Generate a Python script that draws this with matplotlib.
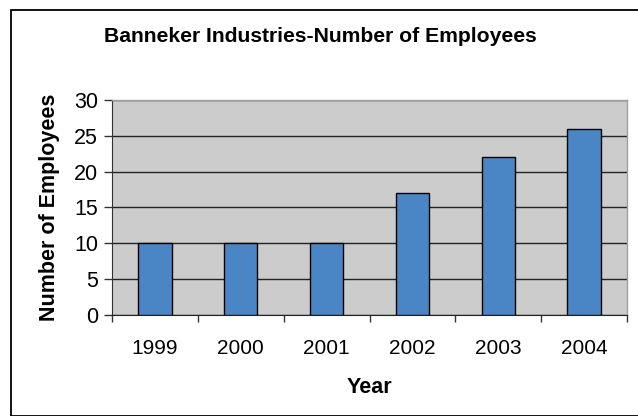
import numpy as np
import matplotlib.pyplot as plt
from matplotlib.patches import Rectangle

plt.rcParams['font.family'] = ['Liberation Sans', 'DejaVu Sans']

years = ['1999', '2000', '2001', '2002', '2003', '2004']
employees = [10, 10, 10, 17, 22, 26]
y_ticks = [0, 5, 10, 15, 20, 25, 30]

W, H = 638, 416
fig = plt.figure(figsize=(W / 100, H / 100), dpi=100)

# outer chart frame
fig.patches.append(Rectangle((10.5 / W, 0), 1, 1 - 9.5 / H, transform=fig.transFigure,
                             fill=False, edgecolor='black', linewidth=1.3))

left, right, top, bottom = 112, 627, 100, 315
ax = fig.add_axes([left / W, 1 - bottom / H, (right - left) / W, (bottom - top) / H])
ax.set_facecolor('#CCCCCC')

x = np.arange(len(years))
ax.bar(x, employees, width=0.39, color='#4A86C6', edgecolor='black', linewidth=1.0, zorder=3)

ax.set_xlim(-0.5, len(years) - 0.5)
ax.set_ylim(0, 30)
ax.set_yticks(y_ticks)
ax.yaxis.grid(True, color='#222222', linewidth=1.0, zorder=1)
ax.set_axisbelow(True)

ax.set_xticks(x)
ax.set_xticklabels(years, fontsize=15)
ax.set_xticks(np.arange(-0.5, len(years)), minor=True)
ax.tick_params(axis='x', which='major', length=0, pad=17)
ax.tick_params(axis='x', which='minor', length=5, width=1, color='#333333')
ax.tick_params(axis='y', length=6, width=1, labelsize=15.5, pad=4, color='#333333')

for side in ['top', 'right']:
    ax.spines[side].set_color('#A0A0A0')
    ax.spines[side].set_linewidth(1.0)
ax.spines['left'].set_color('#333333')
ax.spines['bottom'].set_color('#222222')

ax.set_xlabel('Year', fontsize=15.5, fontweight='bold', labelpad=14)
ax.set_ylabel('Number of Employees', fontsize=15.5, fontweight='bold', labelpad=10)

fig.text(320 / W, 1 - 36 / H, 'Banneker Industries-Number of Employees',
         ha='center', va='center', fontsize=15.2, fontweight='bold')

fig.savefig('out.png', dpi=100)
